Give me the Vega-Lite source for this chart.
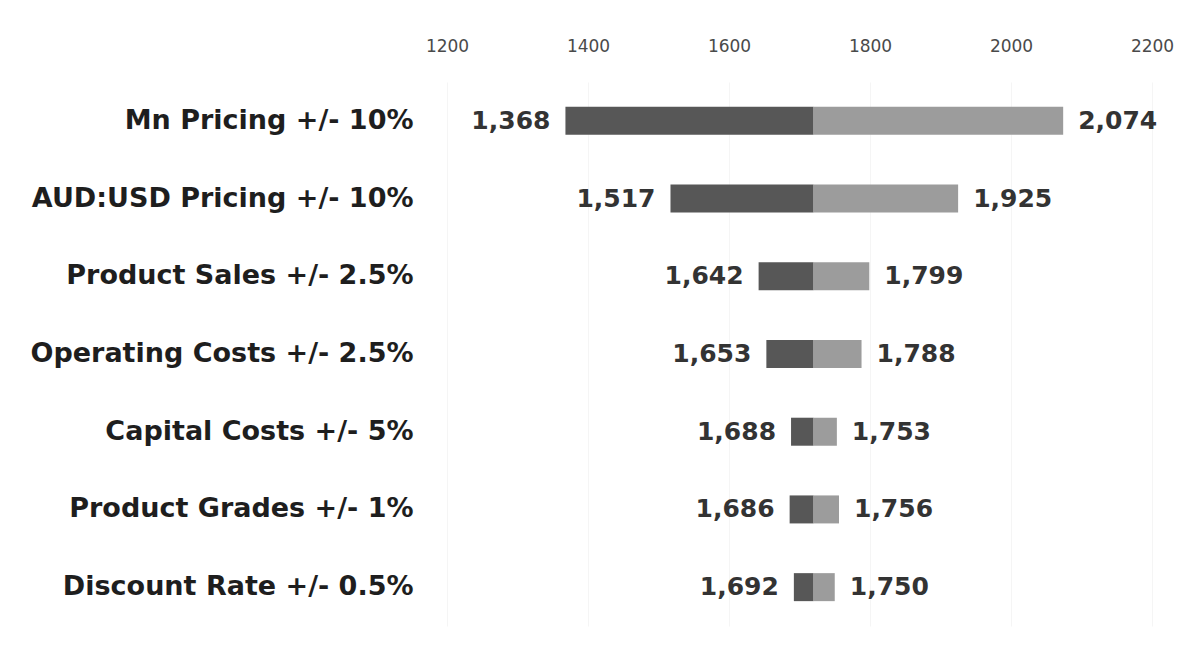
{
  "$schema": "https://vega.github.io/schema/vega-lite/v6.json",
  "width": 705,
  "height": 544,
  "autosize": {"type": "none"},
  "padding": {"left": 447, "top": 82, "right": 49, "bottom": 19},
  "background": "white",
  "config": {"view": {"stroke": null}, "font": "DejaVu Sans"},
  "data": {
    "values": [
      {"factor": "Mn Pricing +/- 10%", "low": 1368, "high": 2074, "base": 1720},
      {"factor": "AUD:USD Pricing +/- 10%", "low": 1517, "high": 1925, "base": 1720},
      {"factor": "Product Sales +/- 2.5%", "low": 1642, "high": 1799, "base": 1720},
      {"factor": "Operating Costs +/- 2.5%", "low": 1653, "high": 1788, "base": 1720},
      {"factor": "Capital Costs +/- 5%", "low": 1688, "high": 1753, "base": 1720},
      {"factor": "Product Grades +/- 1%", "low": 1686, "high": 1756, "base": 1720},
      {"factor": "Discount Rate +/- 0.5%", "low": 1692, "high": 1750, "base": 1720}
    ]
  },
  "encoding": {
    "y": {
      "field": "factor", "type": "nominal", "sort": null, "title": null,
      "axis": {"ticks": false, "domain": false, "labelPadding": 34, "labelFont": "DejaVu Sans", "labelFontWeight": "bold", "labelFontSize": 27, "labelColor": "#1e1e1e", "labelLimit": 500}
    }
  },
  "layer": [
    {
      "mark": {"type": "bar", "color": "#575757", "size": 28},
      "encoding": {
        "x": {
          "field": "low", "type": "quantitative", "title": null,
          "scale": {"domain": [1200, 2200], "nice": false, "zero": false},
          "axis": {"orient": "top", "values": [1200, 1400, 1600, 1800, 2000, 2200], "format": "d", "ticks": false, "domain": false, "labelPadding": 27, "labelFontSize": 17, "labelColor": "#4a4a4a", "grid": true, "gridColor": "#f5f5f5", "labelFlush": false}
        },
        "x2": {"field": "base"}
      }
    },
    {
      "mark": {"type": "bar", "color": "#9c9c9c", "size": 28},
      "encoding": {
        "x": {"field": "base", "type": "quantitative"},
        "x2": {"field": "high"}
      }
    },
    {
      "mark": {"type": "text", "align": "right", "dx": -15, "fontSize": 25, "fontWeight": "bold", "color": "#333333", "baseline": "middle"},
      "encoding": {
        "x": {"field": "low", "type": "quantitative"},
        "text": {"field": "low", "type": "quantitative", "format": ","}
      }
    },
    {
      "mark": {"type": "text", "align": "left", "dx": 15, "fontSize": 25, "fontWeight": "bold", "color": "#333333", "baseline": "middle"},
      "encoding": {
        "x": {"field": "high", "type": "quantitative"},
        "text": {"field": "high", "type": "quantitative", "format": ","}
      }
    }
  ]
}
